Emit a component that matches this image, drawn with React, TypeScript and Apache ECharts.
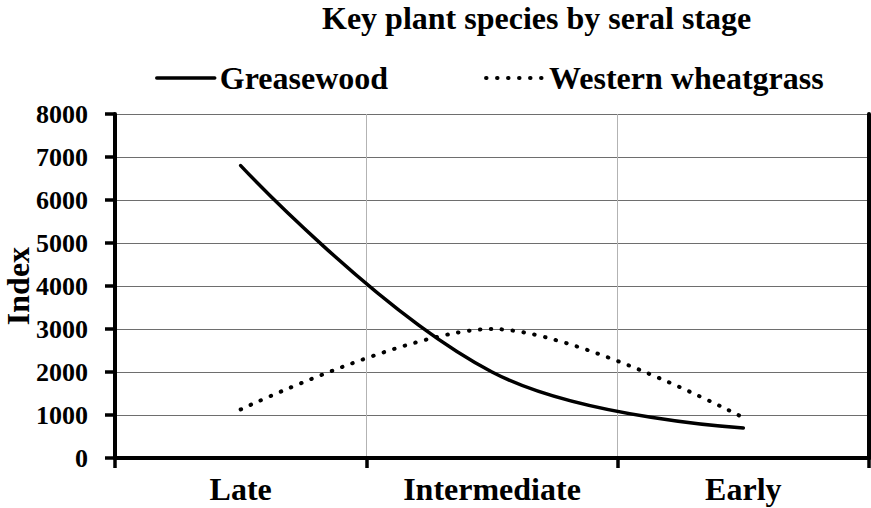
import React, { useEffect, useRef } from "react";
import * as echarts from "echarts";

const categories = ["Late", "Intermediate", "Early"];
const greasewood = [6800, 2000, 700];
const westernWheatgrass = [1130, 3000, 940];
const yTicks = { min: 0, max: 8000, interval: 1000 };

const FONT = '"Liberation Serif", "Times New Roman", serif';

export default function App() {
  const ref = useRef<HTMLDivElement>(null);
  useEffect(() => {
    if (!ref.current) return;
    const chart = echarts.init(ref.current, undefined, { renderer: "svg" });
    const textBase = { fontFamily: FONT, fontWeight: "bold" as const, color: "#000" };
    chart.setOption({
      animation: false,
      backgroundColor: "#fff",
      title: {
        text: "Key plant species by seral stage",
        left: 322,
        top: 2,
        padding: 0,
        textStyle: { ...textBase, fontSize: 32, lineHeight: 32 },
      },
      legend: {
        left: 155,
        top: 62,
        padding: 0,
        itemWidth: 58,
        itemHeight: 14,
        itemGap: 96,
        textStyle: { ...textBase, fontSize: 32, lineHeight: 32 },
        data: [
          {
            name: "Greasewood",
            itemStyle: { opacity: 0 },
            lineStyle: { color: "#000", width: 3.5, type: "solid", opacity: 1 },
          },
          {
            name: "Western wheatgrass",
            itemStyle: { opacity: 0 },
            lineStyle: { color: "#000", width: 4, type: [0.5, 10.5], cap: "round", opacity: 1 },
          },
        ],
      },
      grid: { left: 115, right: 2, top: 114, bottom: 50, outerBoundsMode: "none", containLabel: false },
      xAxis: [
        {
          type: "category",
          data: categories,
          position: "bottom",
          boundaryGap: true,
          axisLine: { show: true, lineStyle: { color: "#000", width: 4 } },
          axisTick: { show: true, length: 10, lineStyle: { color: "#000", width: 3.5 } },
          axisLabel: { ...textBase, fontSize: 32, margin: 15 },
          splitLine: { show: true, lineStyle: { color: "#b3b3b3", width: 1 } },
        },
        {
          type: "category",
          data: categories,
          position: "top",
          boundaryGap: true,
          axisLine: { show: true, lineStyle: { color: "#000", width: 4 } },
          axisTick: { show: false },
          axisLabel: { show: false },
          splitLine: { show: false },
        },
      ],
      yAxis: [
        {
          type: "value",
          min: yTicks.min,
          max: yTicks.max,
          interval: yTicks.interval,
          name: "Index",
          nameLocation: "middle",
          nameGap: 84,
          nameRotate: 90,
          nameMoveOverlap: false,
          nameTextStyle: { ...textBase, fontSize: 32, lineHeight: 26 },
          axisLine: { show: true, lineStyle: { color: "#000", width: 4 } },
          axisTick: { show: true, length: 10, lineStyle: { color: "#000", width: 3.5 } },
          axisLabel: { ...textBase, fontSize: 26, margin: 27, formatter: (v: number) => String(v) },
          splitLine: { show: true, lineStyle: { color: "#6e6e6e", width: 1 } },
        },
        {
          type: "value",
          position: "right",
          min: yTicks.min,
          max: yTicks.max,
          interval: yTicks.interval,
          axisLine: { show: true, lineStyle: { color: "#000", width: 4 } },
          axisTick: { show: false },
          axisLabel: { show: false },
          splitLine: { show: false },
        },
      ],
      series: [
        {
          name: "Greasewood",
          type: "line",
          data: greasewood,
          smooth: 0.4,
          symbol: "none",
          lineStyle: { color: "#000", width: 3.5, cap: "round" },
          itemStyle: { color: "#000" },
        },
        {
          name: "Western wheatgrass",
          type: "line",
          data: westernWheatgrass,
          smooth: 0.32,
          symbol: "none",
          lineStyle: { color: "#000", width: 4, type: [0.5, 10.5], cap: "round" },
          itemStyle: { color: "#000" },
        },
      ],
    });
    return () => chart.dispose();
  }, []);
  return <div ref={ref} style={{ width: 871, height: 508, position: "absolute", left: 0, top: 0 }} />;
}
